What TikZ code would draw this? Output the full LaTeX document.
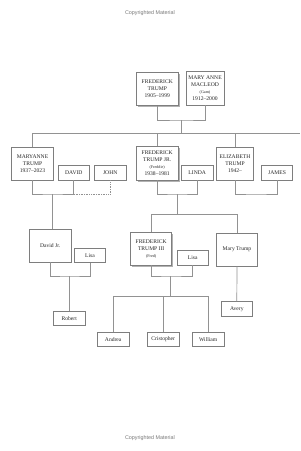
\documentclass[tikz,border=0pt]{standalone}
\usepackage{fontspec}
\setmainfont{Liberation Serif}
\newfontfamily\markfont{Liberation Sans}
\usetikzlibrary{shadows}

\definecolor{linegray}{HTML}{929292}
\definecolor{boxgray}{HTML}{7E7E7E}
\definecolor{markgray}{HTML}{7A7A7A}
\definecolor{textgray}{HTML}{262626}

\newcommand\nick[1]{{\fontsize{4.1}{5.2}\selectfont(#1)}}

\begin{document}
\begin{tikzpicture}[
			x=1pt, y=-1pt,
			every node/.style = {font=\fontsize{5.6}{7.1}\selectfont, align=center, text=textgray},
			person/.style     = {draw=boxgray, line width=0.55pt, fill=white, inner sep=0pt,
			                     minimum width=31.5pt, minimum height=14.5pt},
			big/.style        = {person, minimum width=41.5pt, minimum height=33pt},
			lead/.style       = {drop shadow={shadow xshift=1.5pt, shadow yshift=-1.8pt,
			                     fill=black!50, opacity=.6}},
			link/.style       = {draw=linegray, line width=0.7pt},
			pagemark/.style   = {font=\markfont\fontsize{5.4}{6}\selectfont, text=markgray}
			]
			\fill[white] (0,0) rectangle (300,451);
			
			%--- page marks ---
			\node[pagemark] (topmark) at (150,13.5)  {Copyrighted Material};
			\node[pagemark] (botmark) at (150,438.3) {Copyrighted Material};
			
			%--- grandparents ---
			\node[big, lead, minimum height=33.5pt] (fred) at (157.3,88.8) {FREDERICK\\TRUMP\\1905--1999};
			\node[big, minimum width=38pt, minimum height=34pt] (mary) at (205,88) {MARY ANNE\\MACLEOD\\\nick{Gam}\\1912--2000};
			
			%--- children and their partners ---
			\node[big]       (maryanne)  at (32.5,163.7)  {MARYANNE\\TRUMP\\1937--2023};
			\node[person]    (david)     at (73.8,172.8)  {DAVID};
			\node[person]    (john)      at (110.2,172.8) {JOHN};
			
			\node[big, lead, minimum width=42.3pt, minimum height=33.3pt] (freddie) at (157.2,163.3) {FREDERICK\\TRUMP JR.\\\nick{Freddie}\\1938--1981};
			\node[person]    (linda)     at (197.2,172.8) {LINDA};
			
			\node[big, minimum width=36.6pt] (elizabeth) at (235,163.7) {ELIZABETH\\TRUMP\\1942--};
			\node[person]    (james)     at (277,172.8)   {JAMES};
			
			%--- grandchildren and their partners ---
			\node[big]       (davidjr)   at (50.2,245.7)  {David Jr.};
			\node[person]    (lisaa)     at (90,255.3)    {Lisa};
			
			\node[big, lead, minimum width=41pt, minimum height=32.7pt] (fred3) at (151.2,248.7) {FREDERICK\\TRUMP III\\\nick{Fred}};
			\node[person]    (lisab)     at (192.8,257.8) {Lisa};
			
			\node[big, minimum width=40.6pt] (marytrump) at (237,249.5) {Mary Trump};
			
			%--- great-grandchildren ---
			\node[person]    (robert)     at (69.2,318.3)  {Robert};
			\node[person]    (avery)      at (236.8,308.8) {Avery};
			\node[person]    (andrea)     at (113.2,339.2) {Andrea};
			\node[person]    (cristopher) at (163.2,339.2) {Cristopher};
			\node[person]    (william)    at (208.2,339.2) {William};
			
			%--- joints of the lines ---
			\coordinate (p0)   at (181.7,120);
			\coordinate (gen1) at (300,133.5);
			\coordinate (p1)   at (52.5,194);
			\coordinate (p2)   at (177.3,194);
			\coordinate (p3)   at (256,194);
			\coordinate (gen2) at (237,214.3);
			\coordinate (p4)   at (69.2,276);
			\coordinate (p5)   at (170.7,276);
			\coordinate (gen3) at (208.2,296.7);
			
			%--- couples and descent ---
			\draw[link] (fred.south) |- (p0) -| (mary.south);
			\draw[link] (p0) -- (p0 |- gen1);
			\draw[link] (maryanne.north) |- (gen1);
			\draw[link] (freddie.north) -- (freddie.north |- gen1);
			\draw[link] (elizabeth.north) -- (elizabeth.north |- gen1);
			
			\draw[link] (maryanne.south) |- (p1) -| (david.south);
			\draw[link, densely dotted] (david.south |- p1) -| (john.south);
			\draw[link] (p1) -- (p1 |- davidjr.north);
			
			\draw[link] (freddie.south) |- (p2) -| (linda.south);
			\draw[link] (p2) -- (p2 |- gen2);
			\draw[link] (fred3.north) |- (gen2) -- (marytrump.north);
			
			\draw[link] (elizabeth.south) |- (p3) -| (james.south);
			
			\draw[link] (davidjr.south) |- (p4) -| (lisaa.south);
			\draw[link] (p4) -- (robert.north);
			
			\draw[link] (fred3.south) |- (p5) -| (lisab.south);
			\draw[link] (p5) -- (p5 |- gen3);
			\draw[link] (andrea.north) |- (gen3) -- (william.north);
			\draw[link] (cristopher.north) -- (cristopher.north |- gen3);
			
			\draw[link] (marytrump.south) -- (avery.north);
		\end{tikzpicture}
\end{document}
